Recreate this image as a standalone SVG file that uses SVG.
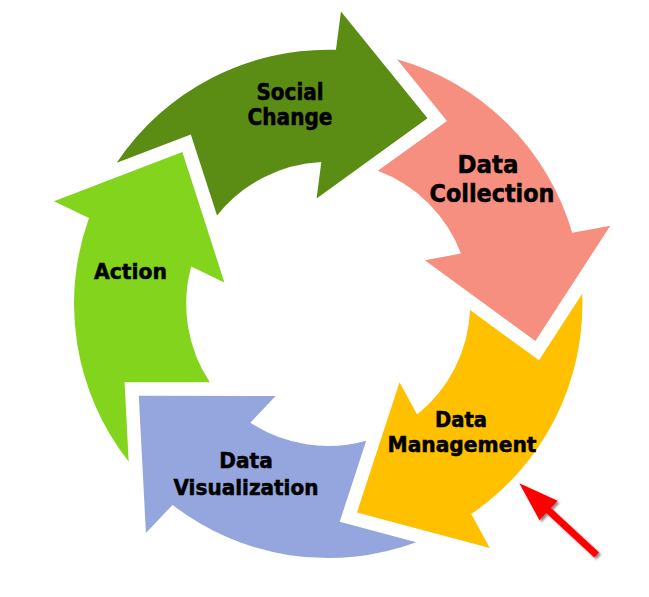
<svg xmlns="http://www.w3.org/2000/svg" width="649" height="597" viewBox="0 0 649 597">
<defs>
<path id="seg" d="M -211.46 -141.08 A 254.2 254.2 0 0 1 7.76 -254.08 L 12.77 -292.52 L 99.3 -185.6 L -11.63 -105.36 L -6.87 -141.83 A 142 142 0 0 0 -111.17 -88.34 L -137.36 -169.5 Z"/>
<filter id="shadow" x="-20%" y="-20%" width="150%" height="150%">
<feDropShadow dx="2" dy="2" stdDeviation="1.2" flood-color="#000" flood-opacity="0.45"/>
</filter>
</defs>
<style>
.lbl{font-family:"DejaVu Sans Condensed","DejaVu Sans","Liberation Sans",sans-serif;font-weight:bold;fill:#000;stroke:#000;stroke-width:0.5;text-anchor:middle}
</style>
<rect width="649" height="597" fill="#fff"/>
<g id="social-change">
<use href="#seg" transform="translate(328.2 303.9)" fill="#5B8C14"/>
<text class="lbl" x="290" y="99.5" font-size="22.5" textLength="67" lengthAdjust="spacingAndGlyphs">Social</text>
<text class="lbl" x="290" y="124.5" font-size="22.5" textLength="85" lengthAdjust="spacingAndGlyphs">Change</text>
</g>
<g id="data-collection">
<use href="#seg" transform="translate(328.2 303.9) rotate(72)" fill="#F68F7F"/>
<text class="lbl" x="488" y="173" font-size="25.5" textLength="61" lengthAdjust="spacingAndGlyphs">Data</text>
<text class="lbl" x="492" y="202" font-size="25.5" textLength="125" lengthAdjust="spacingAndGlyphs">Collection</text>
</g>
<g id="data-management">
<use href="#seg" transform="translate(328.2 303.9) rotate(144)" fill="#FFC000"/>
<text class="lbl" x="461" y="427" font-size="21.5" textLength="52" lengthAdjust="spacingAndGlyphs">Data</text>
<text class="lbl" x="462" y="452" font-size="21.5" textLength="149" lengthAdjust="spacingAndGlyphs">Management</text>
</g>
<g id="data-visualization">
<use href="#seg" transform="translate(328.2 303.9) rotate(216)" fill="#95A6DE"/>
<text class="lbl" x="246" y="468" font-size="21.5" textLength="53.5" lengthAdjust="spacingAndGlyphs">Data</text>
<text class="lbl" x="246" y="495" font-size="21.5" textLength="145" lengthAdjust="spacingAndGlyphs">Visualization</text>
</g>
<g id="action">
<use href="#seg" transform="translate(328.2 303.9) rotate(288)" fill="#82D41C"/>
<text class="lbl" x="130.5" y="279" font-size="22" textLength="73" lengthAdjust="spacingAndGlyphs">Action</text>
</g>
<g id="connectors">
<polygon points="519.3,483.3 539.56,520.26 546.22,513.07 594.32,557.57 599.08,552.43 550.98,507.93 557.64,500.74" fill="#FF0000" filter="url(#shadow)"/>
</g>
</svg>
